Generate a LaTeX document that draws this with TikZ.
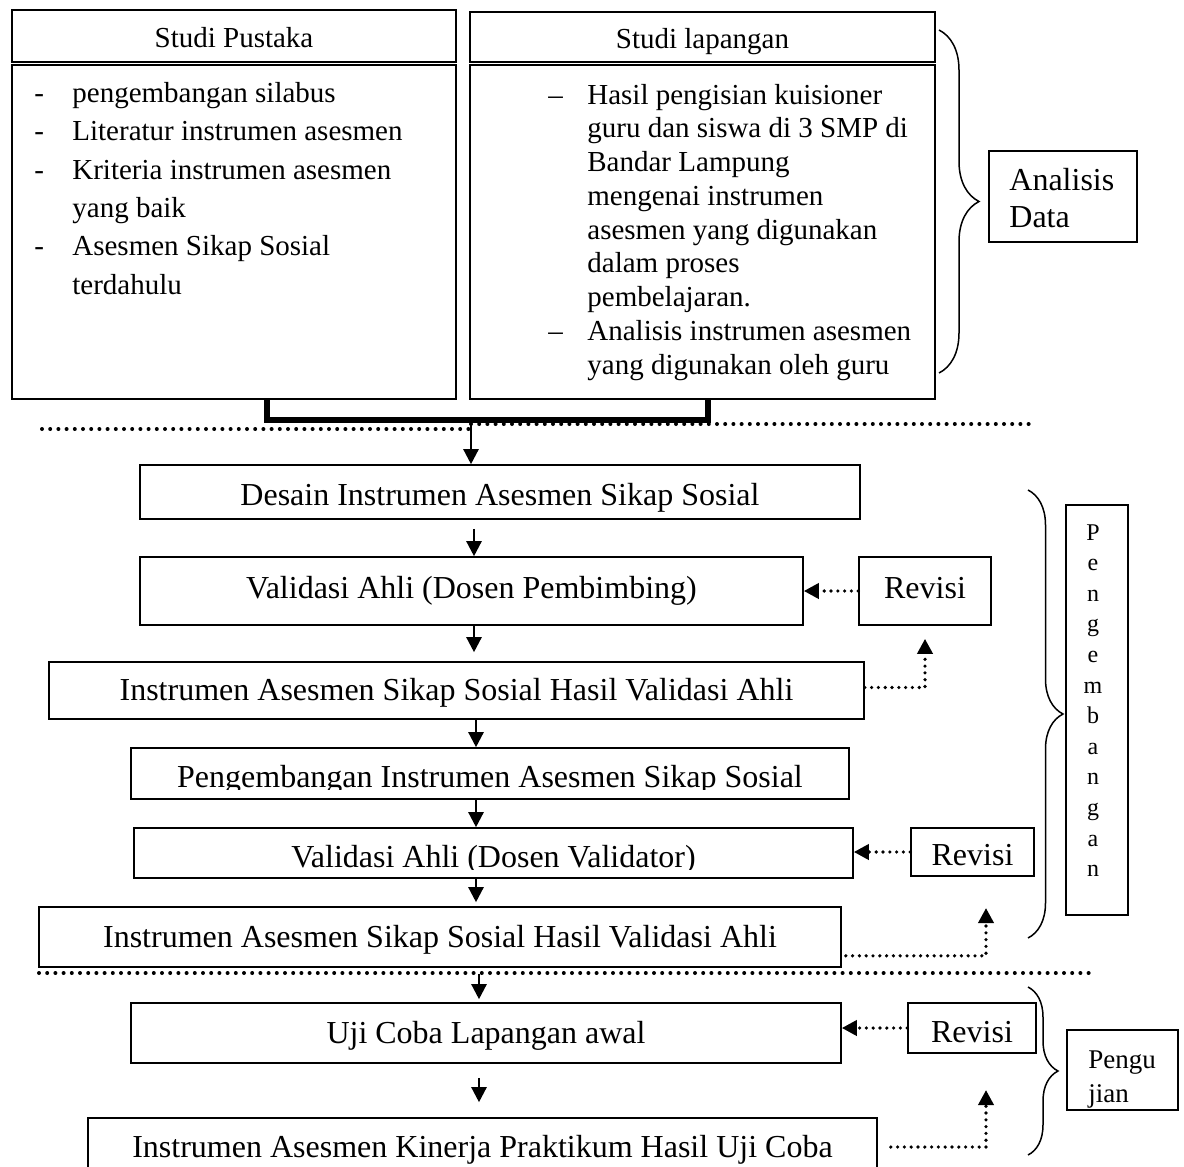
\documentclass[tikz,border=0pt]{standalone}
\usepackage{fontspec}
\setmainfont{Liberation Serif}
\usetikzlibrary{arrows.meta,decorations.pathreplacing,calc}
\begin{document}
\begin{tikzpicture}[x=0.5pt,y=-0.5pt,
  box/.style={draw, line width=0.8pt, inner sep=0pt, rectangle},
  bsz/.style 2 args={minimum width=#1*0.5pt, minimum height=#2*0.5pt},
  lbl/.style={inner sep=0pt, anchor=base, font=\fontsize{16}{19}\selectfont},
  arr/.style={line width=1.2pt, -{Triangle[width=7.5pt,length=7.5pt]}},
  dotarr/.style={line width=1.8pt, line cap=round, dash pattern=on 0pt off 3.4pt, -{Triangle[width=7.5pt,length=7.5pt]}},
  divider/.style={line width=2pt, line cap=round, dash pattern=on 0pt off 4.1pt},
  curly/.style={decorate, decoration={brace, amplitude=#1}, line width=0.75pt},
]
\useasboundingbox (0,0) rectangle (1184,1167);
\clip (0,0) rectangle (1184,1167);

% ---------- top section ----------
\node[box, bsz={444}{52}] (pus_h) at (234,36) {};
\node[lbl, font=\fontsize{14.5}{17}\selectfont] (t_pus_h) at (234,47) {Studi Pustaka};
\node[box, bsz={444}{334}] (pus_b) at (234,232) {};
\node[inner sep=0pt, anchor=base west] (t_pus) at (34,102) {\fontsize{14.5}{19.25}\selectfont
  \begin{tabular}[t]{@{}p{19pt}@{}l@{}}
  -&pengembangan silabus\\
  -&Literatur instrumen asesmen\\
  -&Kriteria instrumen asesmen\\
   &yang baik\\
  -&Asesmen Sikap Sosial\\
   &terdahulu
  \end{tabular}};

\node[box, bsz={465}{50}] (lap_h) at (702.5,37) {};
\node[lbl, font=\fontsize{14.5}{17}\selectfont] (t_lap_h) at (702.5,48) {Studi lapangan};
\node[box, bsz={465}{334}] (lap_b) at (702.5,232) {};
\node[inner sep=0pt, anchor=base west] (t_lap) at (548,104) {\fontsize{14.5}{16.875}\selectfont
  \begin{tabular}[t]{@{}p{19.5pt}@{}l@{}}
  --&Hasil pengisian kuisioner\\
    &guru dan siswa di 3 SMP di\\
    &Bandar Lampung\\
    &mengenai instrumen\\
    &asesmen yang digunakan\\
    &dalam proses\\
    &pembelajaran.\\
  --&Analisis instrumen asesmen\\
    &yang digunakan oleh guru
  \end{tabular}};

\draw[curly=20pt] (939,30) -- (939,373);
\node[box, bsz={148}{91}] (ana) at (1063,196.5) {};
\node[inner sep=0pt, anchor=base west] (t_ana) at (1009,190) {\fontsize{16}{18.5}\selectfont
  \begin{tabular}[t]{@{}l@{}}Analisis\\Data\end{tabular}};

% thick bracket joining the two studies
\coordinate (j) at (471,420);
\draw[line width=2.6pt, line join=miter] ($(pus_b.south)+(33,0)$) |- (j) -| ($(lap_b.south)+(5.5,0)$);

\draw[divider] (42,429) -- (471,429);
\draw[divider] (471,424) -- (1034,424);

% ---------- development section ----------
\node[box, bsz={720}{54}] (desain) at (500,492) {};
\node[lbl] (t_desain) at (500,505) {Desain Instrumen Asesmen Sikap Sosial};

\node[box, bsz={663}{68}] (val1) at (471.5,591) {};
\node[lbl] (t_val1) at (471.5,598) {Validasi Ahli (Dosen Pembimbing)};
\node[box, bsz={132}{68}] (rev1) at (925,591) {};
\node[lbl] (t_rev1) at (925,598) {Revisi};

\node[box, bsz={815}{57}] (inst1) at (456.5,690.5) {};
\node[lbl] (t_inst1) at (456.5,700) {Instrumen Asesmen Sikap Sosial Hasil Validasi Ahli};

\node[box, bsz={718}{51}] (peng) at (490,773.5) {};
\begin{scope}
  \clip (131,740) rectangle (849,789);
  \node[lbl] (t_peng) at (490,787) {Pengembangan Instrumen Asesmen Sikap Sosial};
\end{scope}

\node[box, bsz={719}{50}] (val2) at (493.5,853) {};
\begin{scope}
  \clip (134,820) rectangle (853,869.5);
  \node[lbl] (t_val2) at (493.5,867) {Validasi Ahli (Dosen Validator)};
\end{scope}
\node[box, bsz={123}{48}] (rev2) at (972.5,852) {};
\node[lbl] (t_rev2) at (972.5,865) {Revisi};

\node[box, bsz={802}{60}] (inst2) at (440,937) {};
\node[lbl] (t_inst2) at (440,947) {Instrumen Asesmen Sikap Sosial Hasil Validasi Ahli};

\node[box, bsz={62}{410}] (pengV) at (1097,710) {};
\node[inner sep=0pt, anchor=base] (t_pengV) at (1093,540) {\fontsize{12}{15.3}\selectfont
  \begin{tabular}[t]{@{}c@{}}P\\e\\n\\g\\e\\m\\b\\a\\n\\g\\a\\n\end{tabular}};
\draw[curly=17.5pt] (1028,490) -- (1028,938);

\draw[divider] (39,973) -- (1092,973);

% ---------- testing section ----------
\node[box, bsz={710}{60}] (uji) at (486,1033) {};
\node[lbl] (t_uji) at (486,1043) {Uji Coba Lapangan awal};
\node[box, bsz={128}{50}] (rev3) at (972,1028) {};
\node[lbl] (t_rev3) at (972,1042) {Revisi};

\node[box, bsz={111}{80}] (pgj) at (1122.5,1070) {};
\node[inner sep=0pt, anchor=base west] (t_pgj) at (1088,1068) {\fontsize{13.5}{17}\selectfont
  \begin{tabular}[t]{@{}l@{}}Pengu\\jian\end{tabular}};
\draw[curly=15pt] (1028,987) -- (1028,1155);

\node[box, bsz={789}{82}] (final) at (482.5,1159) {};
\node[lbl] (t_final) at (482.5,1157) {Instrumen Asesmen Kinerja Praktikum Hasil Uji Coba};

% ---------- solid arrows ----------
\coordinate (ax) at (474,0);
\coordinate (bx) at (476,0);
\coordinate (cx) at (479,0);
\draw[arr] (j) -- (desain.north -| j);
\draw[arr, shorten <=4.5pt] (desain.south -| ax) -- (val1.north -| ax);
\draw[arr, shorten >=4.5pt] (val1.south -| ax) -- (inst1.north -| ax);
\draw[arr] (inst1.south -| bx) -- (peng.north -| bx);
\draw[arr] (peng.south -| bx) -- (val2.north -| bx);
\draw[arr, shorten <=-0.5pt, shorten >=2pt] (val2.south -| bx) -- (inst2.north -| bx);
\draw[arr, shorten <=3pt, shorten >=1.5pt] (inst2.south -| cx) -- (uji.north -| cx);
\draw[arr, shorten <=7pt, shorten >=7.5pt] (uji.south -| cx) -- (final.north -| cx);

% ---------- dotted revision arrows ----------
\draw[dotarr] (rev1.west) -- (val1.east);
\draw[dotarr] (rev2.west) -- (val2.east |- rev2.west);
\draw[dotarr] (rev3.west) -- (uji.east |- rev3.west);
\draw[dotarr, shorten >=6.5pt] ($(inst1.east)+(0,-3)$) -| (rev1.south);
\coordinate (e2) at (986,908);
\coordinate (e3) at (986,1090);
\draw[dotarr] ($(inst2.south east)+(4,-12)$) -| (e2);
\draw[dotarr] ($(final.east)+(13,-12)$) -| (e3);
\end{tikzpicture}
\end{document}
